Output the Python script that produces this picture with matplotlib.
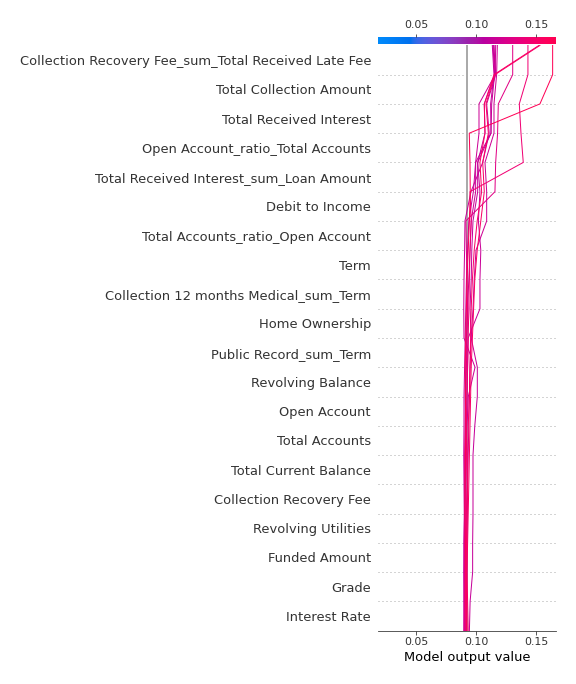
import numpy as np
import matplotlib
matplotlib.use("Agg")
import matplotlib.pyplot as plt
from matplotlib.colors import LinearSegmentedColormap, Normalize

# Feature names, top to bottom
features = [
    "Collection Recovery Fee_sum_Total Received Late Fee",
    "Total Collection Amount",
    "Total Received Interest",
    "Open Account_ratio_Total Accounts",
    "Total Received Interest_sum_Loan Amount",
    "Debit to Income",
    "Total Accounts_ratio_Open Account",
    "Term",
    "Collection 12 months Medical_sum_Term",
    "Home Ownership",
    "Public Record_sum_Term",
    "Revolving Balance",
    "Open Account",
    "Total Accounts",
    "Total Current Balance",
    "Collection Recovery Fee",
    "Revolving Utilities",
    "Funded Amount",
    "Grade",
    "Interest Rate",
]

base_value = 0.0921

# Cumulative model output per observation, read top (final output) to bottom
obs_a = [0.1639, 0.1639, 0.1533, 0.0944, 0.0950, 0.0952, 0.0945, 0.0935, 0.0925, 0.0920, 0.0915,
         0.0910, 0.0912, 0.0915, 0.0912, 0.0910, 0.0908, 0.0912, 0.0915, 0.0915, 0.0918]
obs_b = [0.1533, 0.1158, 0.1083, 0.1103, 0.1056, 0.1069, 0.1040, 0.1010, 0.0990, 0.0980, 0.0970,
         0.0960, 0.0955, 0.0950, 0.0945, 0.0940, 0.0935, 0.0930, 0.0925, 0.0930, 0.0935]
obs_c = [0.1525, 0.1150, 0.1069, 0.1075, 0.1033, 0.1047, 0.1010, 0.0985, 0.0970, 0.0960, 0.0955,
         0.0950, 0.0945, 0.0935, 0.0930, 0.0930, 0.0925, 0.0920, 0.0915, 0.0915, 0.0920]
obs_d = [0.1433, 0.1433, 0.1361, 0.1375, 0.1394, 0.0950, 0.0960, 0.0950, 0.0945, 0.0940, 0.0935,
         0.0930, 0.0925, 0.0920, 0.0922, 0.0925, 0.0920, 0.0918, 0.0920, 0.0922, 0.0925]
obs_e = [0.1306, 0.1306, 0.1186, 0.1180, 0.1164, 0.1158, 0.0915, 0.0920, 0.0925, 0.0930, 0.0925,
         0.0920, 0.0915, 0.0910, 0.0905, 0.0905, 0.0910, 0.0905, 0.0905, 0.0905, 0.0903]
obs_f = [0.1178, 0.1172, 0.1150, 0.1150, 0.1075, 0.1089, 0.1089, 0.1000, 0.0985, 0.0975, 0.0960,
         0.0950, 0.0945, 0.0940, 0.0935, 0.0930, 0.0928, 0.0925, 0.0925, 0.0920, 0.0920]
obs_g = [0.1164, 0.1160, 0.1025, 0.1025, 0.0997, 0.0997, 0.0960, 0.0950, 0.0940, 0.0930, 0.0920,
         0.0915, 0.0910, 0.0912, 0.0910, 0.0908, 0.0905, 0.0905, 0.0902, 0.0900, 0.0898]
obs_h = [0.1150, 0.1158, 0.1069, 0.1075, 0.1014, 0.1033, 0.1020, 0.1040, 0.1033, 0.1033, 0.0935,
         0.0930, 0.0925, 0.0920, 0.0918, 0.0915, 0.0915, 0.0912, 0.0910, 0.0910, 0.0912]
obs_i = [0.1136, 0.1150, 0.1122, 0.1125, 0.1014, 0.1014, 0.0975, 0.0965, 0.0960, 0.0950, 0.0960,
         0.1011, 0.1011, 0.0990, 0.0975, 0.0975, 0.0975, 0.0972, 0.0972, 0.0951, 0.0945]
obs_j = [0.1142, 0.1155, 0.1131, 0.1125, 0.0997, 0.0978, 0.0940, 0.0930, 0.0920, 0.0915, 0.0910,
         0.0905, 0.0900, 0.0900, 0.0898, 0.0900, 0.0902, 0.0900, 0.0903, 0.0905, 0.0908]
obs_k = [0.1148, 0.1165, 0.1089, 0.1110, 0.1056, 0.0958, 0.0908, 0.0905, 0.0900, 0.0898, 0.0900,
         0.0992, 0.0936, 0.0925, 0.0915, 0.0910, 0.0905, 0.0900, 0.0898, 0.0900, 0.0903]

observations = [obs_k, obs_j, obs_i, obs_h, obs_g, obs_f, obs_e, obs_d, obs_c, obs_b, obs_a]

xlim = (0.0183, 0.1667)
x_ticks = [0.05, 0.10, 0.15]
x_tick_labels = ["0.05", "0.10", "0.15"]


# shap-like red_blue colormap (LCh interpolation)
def lch2rgb(L, C, h):
    a = C * np.cos(h)
    b = C * np.sin(h)
    fy = (L + 16) / 116
    fx = fy + a / 500
    fz = fy - b / 200

    def finv(t):
        return np.where(t > 6 / 29, t ** 3, 3 * (6 / 29) ** 2 * (t - 4 / 29))

    X = 0.95047 * finv(fx)
    Y = finv(fy)
    Z = 1.08883 * finv(fz)
    M = np.array([[3.2406, -1.5372, -0.4986],
                  [-0.9689, 1.8758, 0.0415],
                  [0.0557, -0.2040, 1.0570]])
    lin = M @ np.vstack([X, Y, Z])
    lin = np.clip(lin, 0, 1)
    rgb = np.where(lin <= 0.0031308, 12.92 * lin, 1.055 * lin ** (1 / 2.4) - 0.055)
    return np.clip(rgb.T, 0, 1)


nsteps = 100
l_vals = np.concatenate([np.linspace(54, 40, nsteps // 2), np.linspace(40, 54, nsteps // 2)])
c_vals = np.linspace(70, 90, nsteps)
h_vals = np.linspace(4.6588, 0.35470565 + 2 * np.pi, nsteps)
cols = lch2rgb(l_vals, c_vals, h_vals)
cmap = LinearSegmentedColormap.from_list("red_blue", cols)
norm = Normalize(vmin=xlim[0], vmax=xlim[1])

W, H = 576, 684
fig = plt.figure(figsize=(W / 72, H / 72), dpi=72)
ax = fig.add_axes([378 / W, 53.4 / H, 178 / W, 585.2 / H])

n = len(features)
y_pos = np.arange(n + 1)

for i in range(1, n):
    ax.axhline(i, color="#aaaaaa", linestyle=(0, (1, 3)), lw=1, zorder=1)

ax.axvline(base_value, color="#aaaaaa", lw=2, zorder=2)

for obs in observations:
    vals = np.array(obs[::-1])
    ax.plot(vals, y_pos, color=cmap(norm(obs[0])), lw=1, zorder=3)

ax.set_xlim(*xlim)
ax.set_ylim(0, n)
ax.set_yticks(np.arange(n) + 0.5)
ax.set_yticklabels(features[::-1], fontsize=13, color="#333333")
ax.tick_params(axis="y", length=0, pad=7)
ax.set_xticks(x_ticks)
ax.set_xticklabels(x_tick_labels, fontsize=11, color="#333333")
ax.tick_params(axis="x", length=4, color="#333333", pad=2)
ax.set_xlabel("Model output value", fontsize=13, labelpad=4)
for s in ("left", "right", "top"):
    ax.spines[s].set_visible(False)
ax.spines["bottom"].set_color("#333333")

# colorbar on top
cax = fig.add_axes([378 / W, 639.5 / H, 178 / W, 7.5 / H])
grad = np.linspace(xlim[0], xlim[1], 512)[None, :]
cax.imshow(grad, aspect="auto", cmap=cmap, norm=norm,
           extent=[xlim[0], xlim[1], 0, 1])
cax.set_xlim(*xlim)
cax.set_yticks([])
cax.xaxis.set_ticks_position("top")
cax.xaxis.set_label_position("top")
cax.set_xticks(x_ticks)
cax.set_xticklabels(x_tick_labels, fontsize=11, color="#333333")
cax.tick_params(axis="x", length=3, color="#333333", pad=4)
for s in cax.spines.values():
    s.set_visible(False)

fig.savefig("out.png", dpi=72)
